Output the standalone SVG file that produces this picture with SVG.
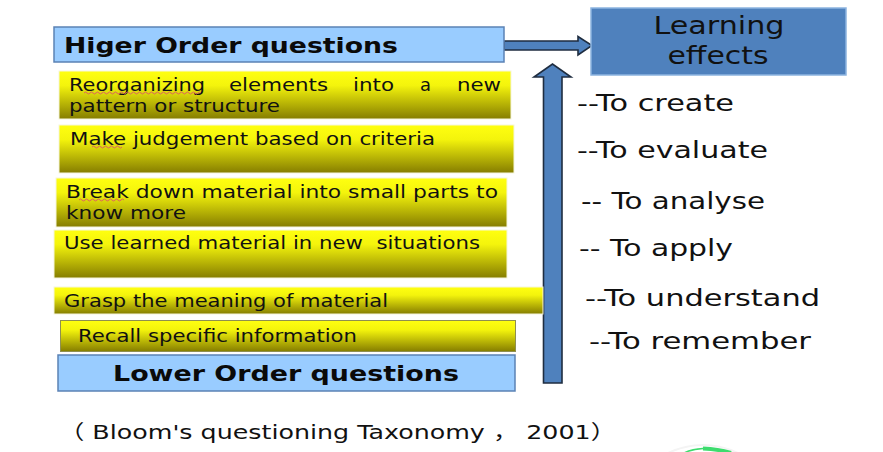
<svg xmlns="http://www.w3.org/2000/svg" width="883" height="452" viewBox="0 0 883 452">
<style>
text{font-family:"DejaVu Sans","Liberation Sans",sans-serif;fill:#111}
.b{font-weight:bold;font-size:22px;fill:#0a0a0a}
.y{font-size:17px}
.r{font-size:23px}
.h{fill:#99ccff;stroke:#5b82b5;stroke-width:1.5}
.g{fill:url(#yg);stroke:#f6f6dc;stroke-width:1}
.a{fill:#4f81bd;stroke:#1f2d40;stroke-width:1.6}
.s{fill:none;stroke:#e06060;stroke-width:1}
</style>
<defs>
<linearGradient id="yg" x1="0" y1="0" x2="0" y2="1"><stop offset="0" stop-color="#ffff10"/><stop offset="0.3" stop-color="#f4f40c"/><stop offset="1" stop-color="#857d00"/></linearGradient>
</defs>
<rect width="883" height="452" fill="#fff"/>
<g id="connectors">
<path class="a" d="M504 41H578V36.500L592 45.500L578 55V50H504Z"/>
<path class="a" d="M543.500 383V77H534L552.500 64L571 77H562V383Z"/>
</g>
<g id="higher"><rect class="h" x="54" y="27" width="450" height="35"/><text class="b" x="64" y="53" textLength="334" lengthAdjust="spacingAndGlyphs">Higer Order questions</text></g>
<g id="create"><rect class="g" x="59" y="71" width="452" height="48"/>
<text class="y" x="69" y="91" textLength="136" lengthAdjust="spacingAndGlyphs">Reorganizing</text><text class="y" x="229" y="91" textLength="99" lengthAdjust="spacingAndGlyphs">elements</text><text class="y" x="353" y="91" textLength="41" lengthAdjust="spacingAndGlyphs">into</text><text class="y" x="420" y="91" textLength="11" lengthAdjust="spacingAndGlyphs">a</text><text class="y" x="457" y="91" textLength="44" lengthAdjust="spacingAndGlyphs">new</text>
<text class="y" x="69" y="112" textLength="211" lengthAdjust="spacingAndGlyphs">pattern or structure</text>
<path class="s" d="M84 93q1.500 -2 3 0t3 0t3 0t3 0t3 0t3 0t3 0t3 0t3 0t3 0t3 0t3 0t3 0t3 0t3 0t3 0t3 0t3 0t3 0t3 0t3 0t3 0t3 0t3 0t3 0t3 0t3 0t3 0t3 0t3 0t3 0t3 0t3 0t3 0t3 0t3 0t3 0t3 0t3 0"/></g>
<g id="evaluate"><rect class="g" x="59" y="125" width="455" height="48"/><text class="y" x="70" y="145" textLength="365" lengthAdjust="spacingAndGlyphs">Make judgement based on criteria</text>
<path class="s" d="M92 147q1.500 -2 3 0t3 0t3 0t3 0t3 0t3 0t3 0t3 0t3 0t3 0"/></g>
<g id="analyse"><rect class="g" x="56" y="178" width="451" height="49"/><text class="y" x="66" y="198" textLength="432" lengthAdjust="spacingAndGlyphs">Break down material into small parts to</text><text class="y" x="66" y="219" textLength="120" lengthAdjust="spacingAndGlyphs">know more</text>
<path class="s" d="M79 200q1.500 -2 3 0t3 0t3 0t3 0t3 0t3 0t3 0t3 0t3 0t3 0t3 0t3 0t3 0t3 0t3 0"/></g>
<g id="apply"><rect class="g" x="54" y="230" width="453" height="48"/><text class="y" x="64" y="249" textLength="416" lengthAdjust="spacingAndGlyphs" xml:space="preserve">Use learned material in new  situations</text></g>
<g id="understand"><rect class="g" x="54" y="287" width="489" height="27"/><text class="y" x="64" y="307" textLength="324" lengthAdjust="spacingAndGlyphs">Grasp the meaning of material</text></g>
<g id="remember"><rect x="60.500" y="320.500" width="455" height="31" fill="url(#yg)" stroke="#8f8f50" stroke-width="1"/><text class="y" x="78" y="342" textLength="279" lengthAdjust="spacingAndGlyphs">Recall specific information</text></g>
<g id="lower"><rect class="h" x="58" y="355" width="457" height="36"/><text class="b" x="113" y="381" textLength="346" lengthAdjust="spacingAndGlyphs">Lower Order questions</text></g>
<g id="effects"><rect x="591" y="8" width="255" height="67" fill="#4f81bd" stroke="#8cb4e0" stroke-width="1.500"/><text x="719" y="34" font-size="24" text-anchor="middle" textLength="131" lengthAdjust="spacingAndGlyphs">Learning</text><text x="718" y="64" font-size="24" text-anchor="middle" textLength="101" lengthAdjust="spacingAndGlyphs">effects</text></g>
<g id="outcomes">
<text class="r" x="577" y="111" textLength="157" lengthAdjust="spacingAndGlyphs">--To create</text>
<text class="r" x="577" y="158" textLength="191" lengthAdjust="spacingAndGlyphs">--To evaluate</text>
<text class="r" x="581" y="209" textLength="184" lengthAdjust="spacingAndGlyphs">-- To analyse</text>
<text class="r" x="579" y="256" textLength="154" lengthAdjust="spacingAndGlyphs">-- To apply</text>
<text class="r" x="585" y="306" textLength="235" lengthAdjust="spacingAndGlyphs">--To understand</text>
<text class="r" x="589" y="349" textLength="222" lengthAdjust="spacingAndGlyphs">--To remember</text>
</g>
<text id="caption" x="59" y="439" font-size="20" textLength="557" lengthAdjust="spacingAndGlyphs" style="font-family:'DejaVu Sans','Noto Sans CJK SC',sans-serif">（ Bloom's questioning Taxonomy ， 2001）</text>
<g id="ring">
<path d="M668 453Q703 437 738 453" fill="none" stroke="#f4f4f4" stroke-width="2"/>
<path d="M684 453Q692 449 703 448.500" fill="none" stroke="#3ddc6e" stroke-width="1.500"/>
<path d="M703 448.500Q718 449 731 453" fill="none" stroke="#3ddc6e" stroke-width="4"/>
</g>
</svg>
